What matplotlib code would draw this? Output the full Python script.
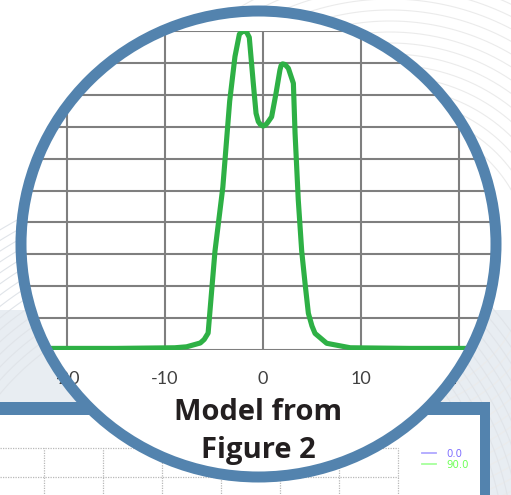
import numpy as np
import matplotlib
matplotlib.use('Agg')
import matplotlib.pyplot as plt
from matplotlib.patches import Ellipse, Rectangle
from matplotlib.transforms import Affine2D, Bbox, TransformedBbox

# ---------------- data ----------------
curve_x = [-26, -15, -9, -7.8, -6.4, -6.0, -5.6, -4.9, -4.1, -3.4, -2.86, -2.41,
           -2.15, -1.9, -1.65, -1.4, -0.99, -0.71, -0.48, -0.25, 0.0, 0.25, 0.45,
           0.88, 1.33, 1.73, 1.85, 2.0, 2.25, 2.59, 3.1, 3.27, 3.6, 3.95, 4.29,
           4.63, 5.0, 5.31, 6.5, 8.9, 15, 26]
curve_y = [0.05, 0.05, 0.07, 0.1, 0.22, 0.33, 0.53, 3.1, 5.1, 7.8, 9.2, 9.9,
           9.97, 10.0, 9.95, 9.8, 8.36, 7.42, 7.16, 7.06, 7.02, 7.05, 7.12,
           7.31, 8.05, 8.78, 8.92, 8.97, 8.95, 8.83, 8.36, 6.8, 4.7, 3.1, 2.09,
           1.15, 0.75, 0.52, 0.21, 0.07, 0.05, 0.05]
x_ticks = [-20, -10, 0, 10, 20]
x_tick_labels = ['-20', '-10', '0', '10', '20']
y_grid = list(range(0, 11))
title_lines = ['Model from', 'Figure 2']
legend_labels = ['0.0', '90.0']
legend_text_colors = ['#7f6fff', '#6cff55']
legend_line_colors = ['#b0a8ff', '#a6ff9c']
inset_x_grid = [0, 1, 2, 3, 4, 5, 6]
inset_y_grid = [0, -1, -2]

# ---------------- style ----------------
BLUE = '#5383ae'
GREEN = '#2eb045'
W, H = 511, 495

fig = plt.figure(figsize=(W / 100, H / 100), dpi=100)
fig.patch.set_facecolor('white')
pix = Affine2D().scale(1 / W, -1 / H).translate(0, 1) + fig.transFigure


def fpos(l, t, r, b):
    return [l / W, 1 - b / H, (r - l) / W, (b - t) / H]


# ---------------- background decoration ----------------
bg = fig.add_axes([0, 0, 1, 1], zorder=0)
bg.set_xlim(0, W)
bg.set_ylim(H, 0)
bg.axis('off')
bg.add_patch(Rectangle((0, 310), W, H - 310, facecolor='#e8edf2',
                       edgecolor='none', zorder=0))
theta = np.linspace(0, 2 * np.pi, 500)
for r in np.arange(140, 300, 11):
    bg.plot(390 + r * np.cos(theta), 260 + r * np.sin(theta),
            color='#ebebeb', lw=0.8, zorder=1)
for r in np.arange(260, 390, 9):
    bg.plot(200 + r * np.cos(theta), 560 + r * np.sin(theta),
            color='#e0e4e9', lw=0.8, zorder=1)
# frame of the lower chart
bg.add_patch(Rectangle((-20, 402), 510, 200, facecolor=BLUE, edgecolor='none', zorder=5))
bg.add_patch(Rectangle((-20, 415), 500, 200, facecolor='white', edgecolor='none', zorder=6))

# ---------------- lower (partial) chart ----------------
ax2 = fig.add_axes(fpos(-0.25, 448, 398, 520), zorder=1)
ax2.set_xlim(-0.75, 6)
ax2.set_ylim(-72 / 29, 0)
ax2.set_xticks(inset_x_grid)
ax2.set_yticks(inset_y_grid)
ax2.tick_params(length=0, labelbottom=False, labelleft=False)
ax2.grid(True, color='#b8b8b8', ls=(0, (1, 1)), lw=0.9)
for s in ax2.spines.values():
    s.set_visible(False)
ax2.patch.set_alpha(0)
for gl in ax2.get_xgridlines() + ax2.get_ygridlines():
    gl.set_clip_on(False)
for lab, c in zip(legend_labels, legend_line_colors):
    ax2.plot([], [], color=c, lw=1.3, label=lab)
ax2.legend(loc='upper left', bbox_to_anchor=(422 / W, 1 - 449 / H),
           bbox_transform=fig.transFigure, frameon=False,
           prop={'family': 'DejaVu Sans', 'size': 7.3},
           handlelength=1.35, handletextpad=1.1, labelspacing=0.1,
           borderpad=0, borderaxespad=0, labelcolor=legend_text_colors)

# ---------------- magnifier circle ----------------
ell_kw = dict(xy=(258.5, 244), width=475, height=466, transform=pix)
fill = Ellipse(**ell_kw, facecolor='white', edgecolor='none', zorder=2)
fig.add_artist(fill)
clip = Ellipse(**ell_kw, facecolor='none', edgecolor='none')

# ---------------- main chart in the circle ----------------
xlim = (-26, 26)
x0_px, unit_px = 263, 9.8
ax = fig.add_axes(fpos(x0_px + xlim[0] * unit_px, 31, x0_px + xlim[1] * unit_px, 350), zorder=3)
ax.patch.set_visible(False)
for s in ax.spines.values():
    s.set_visible(False)
ax.set_xlim(*xlim)
ax.set_ylim(0, 10)
ax.set_xticks(x_ticks)
ax.set_xticklabels(x_tick_labels, family='Lato', fontsize=13, color='#404040')
ax.set_yticks(y_grid)
ax.tick_params(axis='y', length=0, labelleft=False)
ax.tick_params(axis='x', length=5.8, width=1.4, color='#808080', pad=9)
ax.grid(True, color='#7f7f7f', lw=1.5)

line, = ax.plot(curve_x, curve_y, color=GREEN, lw=3.7,
                solid_capstyle='round', solid_joinstyle='round', zorder=3)
line.set_clip_path(clip)
line.set_clip_box(None)

lab_box = TransformedBbox(Bbox.from_extents(57 / W, 0, 456 / W, 1), fig.transFigure)
for t in ax.xaxis.get_major_ticks():
    t.gridline.set_clip_path(clip)
    t.tick1line.set_clip_path(clip)
    t.label1.set_clip_box(lab_box)
    t.label1.set_clip_on(True)
for t in ax.yaxis.get_major_ticks():
    t.gridline.set_clip_path(clip)

ring = Ellipse(**ell_kw, facecolor='none', edgecolor=BLUE, lw=11 * 0.72, zorder=4)
fig.add_artist(ring)

fig.text(258.5 / W, 1 - 420 / H, title_lines[0], ha='center', va='baseline',
         fontsize=21, fontweight='bold', family='Open Sans', color='#231f20', zorder=5)
fig.text(258.5 / W, 1 - 458 / H, title_lines[1], ha='center', va='baseline',
         fontsize=21, fontweight='bold', family='Open Sans', color='#231f20', zorder=5)

fig.savefig('out.png', dpi=100, facecolor='white')
